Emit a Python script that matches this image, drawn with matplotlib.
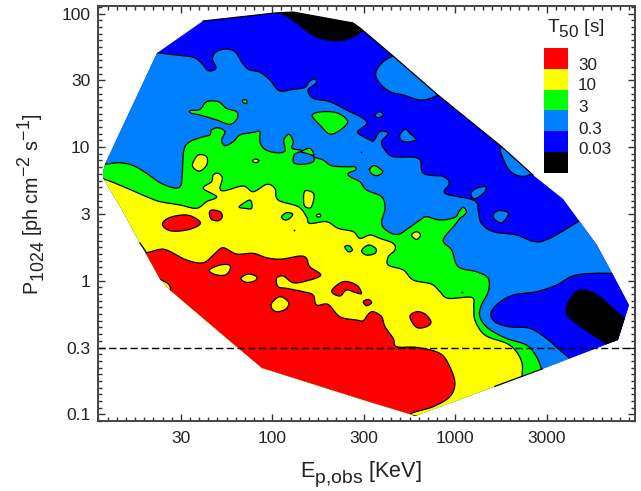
import numpy as np
import matplotlib
matplotlib.use("Agg")
import matplotlib.pyplot as plt
import matplotlib._mathtext as _mt
from matplotlib.patches import Polygon
from matplotlib.ticker import FixedLocator, FixedFormatter, NullFormatter

plt.rcParams['font.family'] = ['Liberation Sans', 'DejaVu Sans']
plt.rcParams['mathtext.fontset'] = 'custom'
plt.rcParams['mathtext.rm'] = 'Liberation Sans'
plt.rcParams['mathtext.default'] = 'regular'
_mt.SHRINK_FACTOR = 0.9
_mt.FontConstantsBase.sub1 = 0.5
_mt.FontConstantsBase.sub2 = 0.7
_mt.FontConstantsBase.sup1 = 0.8

# All outlines: (log10 Ep,obs [keV], log10 P1024)
RED, YEL, GRN, LBL, BLU, BLK = '#ff0000', '#ffff00', '#00ff00', '#0080ff', '#0000ff', '#000000'

hull = [(1.075,.769),(1.075,.814),(1.086,.873),(1.370,1.704),(1.621,1.944),(2.015,2.004),(2.113,2.011),(2.441,1.929),
        (2.479,1.892),(2.660,1.682),(2.905,1.390),(3.255,1.001),(3.425,.791),(3.589,.612),(3.774,.267),(3.862,.043),
        (3.949,-.182),(3.889,-.444),(3.829,-.474),(3.474,-.661),(3.370,-.713),(2.780,-1.013),(2.752,-.998),(2.534,-.908),
        (1.944,-.653),(1.807,-.496),(1.441,-.070),(1.386,.013),(1.277,.282),(1.179,.529)]

edge_top = [(1.621,1.944),(2.015,2.004),(2.113,2.011),(2.441,1.929),(2.479,1.892),(2.660,1.682),(2.905,1.390),(3.255,1.001),(3.425,.791)]
edge_bottom = [(3.216,-.791),(3.370,-.713),(3.474,-.661)]
edge_left = [(1.277,.282),(1.313,.210)]

lightblue_main = [(1.277,1.727),(1.368,1.707),(1.477,1.689),(1.568,1.672),(1.614,1.627),(1.650,1.572),(1.692,1.590),(1.674,1.657),
    (1.687,1.707),(1.741,1.734),(1.796,1.714),(1.832,1.639),(1.869,1.582),(1.932,1.560),(1.987,1.502),(2.038,1.422),(2.114,1.432),
    (2.178,1.447),(2.202,1.490),(2.233,1.510),(2.238,1.477),(2.196,1.427),(2.223,1.365),(2.314,1.340),(2.405,1.278),(2.496,1.215),
    (2.515,1.173),(2.478,1.133),(2.469,1.103),(2.534,1.053),(2.555,1.048),(2.588,1.115),(2.634,1.103),(2.597,1.041),(2.616,.978),
    (2.661,.928),(2.798,.916),(2.825,.804),(2.934,.779),(2.967,.729),(2.943,.654),(3.080,.612),(3.120,.579),(3.125,.529),(3.143,.429),
    (3.207,.367),(3.334,.342),(3.435,.292),(3.516,.317),(3.671,.442),(3.753,.517),(4.2,.5),(4.2,-1.3),(1.0,-1.3),(1.0,1.7)]
lightblue_top1 = [(2.661,1.682),(2.597,1.627),(2.565,1.552),(2.588,1.477),(2.643,1.415),(2.716,1.390),(2.816,1.352),(2.907,1.390),(3.025,1.477),(2.843,1.777)]
lightblue_top2 = [(3.253,1.011),(3.262,.911),(3.307,.811),(3.371,.781),(3.429,.811),(3.535,.903),(3.353,1.103)]
lightblue_isl = [
    [(2.561,1.240),(2.588,1.265),(2.606,1.240),(2.579,1.220)],
    [(2.697,1.090),(2.725,1.135),(2.752,1.103),(2.785,1.058),(2.752,1.041),(2.707,1.048)],
    [(3.085,.654),(3.116,.691),(3.162,.704),(3.162,.666),(3.107,.612)],
    [(3.207,.492),(3.234,.524),(3.280,.517),(3.289,.492),(3.253,.434),(3.216,.459)],
]
black_top = [(2.02,2.03),(2.08,1.98),(2.124,1.939),(2.178,1.881),(2.238,1.827),(2.329,1.796),(2.415,1.809),(2.495,1.871),(2.57,1.95),(2.3,2.15),(2.1,2.15)]
blue_br = [(3.862,.055),(3.753,.055),(3.644,.037),(3.553,-.032),(3.444,-.082),(3.316,-.107),(3.234,-.170),(3.194,-.245),(3.216,-.307),
           (3.289,-.344),(3.407,-.357),(3.498,-.432),(3.571,-.519),(3.626,-.581),(3.68,-.64),(4.05,-.47),(4.05,.055)]
black_br = [(3.607,-.207),(3.635,-.120),(3.680,-.070),(3.735,-.082),(3.789,-.120),(3.862,-.207),(3.930,-.282),(3.99,-.282),(3.99,-.52),(3.826,-.52),(3.826,-.474),
            (3.753,-.407),(3.662,-.319),(3.617,-.269)]

green_main = [(1.004,.878),(1.086,.873),(1.168,.883),(1.241,.861),(1.313,.804),(1.386,.734),(1.459,.696),(1.499,.709),(1.508,.804),(1.517,.978),
    (1.550,1.041),(1.623,1.078),(1.659,1.091),(1.668,1.128),(1.705,1.145),(1.741,1.115),(1.723,1.053),(1.741,1.011),(1.787,1.041),(1.823,1.091),
    (1.896,1.110),(1.932,1.115),(1.932,1.041),(1.960,.983),(2.023,.958),(2.069,.973),(2.063,1.053),(2.092,1.096),(2.114,1.041),(2.109,.991),
    (2.169,.973),(2.223,.928),(2.278,.903),(2.324,.861),(2.405,.853),(2.451,.853),(2.455,.829),(2.415,.804),(2.424,.779),(2.478,.741),
    (2.515,.679),(2.597,.629),(2.616,.542),(2.597,.429),(2.634,.367),(2.688,.347),(2.743,.392),(2.807,.454),(2.843,.479),(2.916,.454),
    (2.998,.474),(3.020,.517),(3.043,.549),(3.061,.517),(3.043,.484),(3.025,.467),(2.998,.417),(2.934,.304),(2.980,.230),(3.016,.105),
    (3.116,.067),(3.180,.018),(3.180,-.082),(3.143,-.182),(3.134,-.269),(3.180,-.357),(3.280,-.432),(3.389,-.482),(3.444,-.569),(3.471,-.661),
    (3.498,-.768),(3.4,-1.3),(1.0,-1.3)]
green_in_blue = [
    [(1.550,1.273),(1.605,1.283),(1.641,1.340),(1.705,1.340),(1.750,1.290),(1.805,1.265),(1.808,1.215),(1.768,1.170),(1.696,1.203),(1.605,1.240),(1.559,1.253)],
    [(1.838,1.352),(1.859,1.352),(1.859,1.327),(1.841,1.332)],
    [(2.218,1.240),(2.278,1.265),(2.360,1.253),(2.411,1.183),(2.324,1.096),(2.260,1.165)],
    [(2.534,.841),(2.561,.861),(2.603,.816),(2.570,.786),(2.537,.809)],
]
lightblue_in_green = [(2.114,.903),(2.123,.948),(2.169,.966),(2.223,.933),(2.223,.891),(2.169,.871),(2.123,.878)]
green_spot = [(2.160,.966),(2.205,.991),(2.227,.941),(2.187,.953)]
yellow_in_green = [
    [(1.565,.878),(1.596,.941),(1.641,.928),(1.641,.866),(1.605,.821),(1.572,.841)],
    [(1.892,.898),(1.909,.911),(1.927,.898),(1.909,.883)],
    [(2.178,.671),(2.227,.649),(2.214,.554),(2.187,.549),(2.172,.579)],
    [(2.242,.492),(2.260,.499),(2.263,.479),(2.245,.479)],
    [(2.761,.342),(2.788,.367),(2.810,.342),(2.788,.309)],
]
yellow_main = [(1.004,.761),(1.077,.761),(1.186,.704),(1.313,.629),(1.386,.592),(1.495,.567),(1.586,.542),(1.641,.592),(1.696,.629),(1.623,.691),
    (1.668,.741),(1.677,.791),(1.705,.804),(1.727,.766),(1.714,.691),(1.741,.674),(1.841,.709),(1.896,.666),(1.969,.721),(2.014,.691),(2.032,.604),
    (2.142,.554),(2.187,.479),(2.205,.429),(2.296,.442),(2.360,.392),(2.442,.367),(2.479,.317),(2.534,.342),(2.588,.317),(2.661,.279),(2.670,.230),
    (2.634,.180),(2.634,.117),(2.716,.080),(2.770,.005),(2.870,-.025),(2.916,-.082),(2.961,-.132),(3.089,-.125),(3.101,-.195),(3.107,-.294),
    (3.162,-.407),(3.280,-.469),(3.334,-.531),(3.365,-.619),(3.365,-.711),(3.365,-.818),(3.0,-1.3),(1.0,-1.3)]
green_in_yellow = [
    [(1.819,.554),(1.878,.604),(1.887,.542),(1.850,.542)],
    [(2.051,.479),(2.078,.509),(2.111,.499),(2.096,.467),(2.069,.454)],
    [(2.396,.254),(2.420,.262),(2.438,.230),(2.415,.217)],
    [(2.488,.225),(2.525,.267),(2.565,.242),(2.561,.205),(2.515,.192)],
]
red_main = [(1.241,.205),(1.313,.210),(1.386,.235),(1.432,.225),(1.532,.155),(1.623,.135),(1.687,.205),(1.732,.247),(1.805,.200),(1.896,.205),
    (1.969,.172),(2.051,.162),(2.151,.185),(2.187,.167),(2.205,.105),(2.265,.042),(2.187,-.002),(2.114,-.015),(2.060,.035),(2.023,.017),(2.032,-.045),
    (2.078,-.057),(2.169,-.082),(2.223,-.107),(2.242,-.182),(2.305,-.177),(2.369,-.269),(2.460,-.294),(2.497,-.299),(2.525,-.249),(2.552,-.232),
    (2.597,-.269),(2.616,-.344),(2.661,-.432),(2.679,-.494),(2.788,-.499),(2.916,-.544),(2.970,-.644),(2.998,-.768),(2.970,-.868),(2.879,-.943),
    (2.752,-.998),(2.716,-1.068),(1.0,-1.3),(1.0,.2)]
red_in_yellow = [
    [(2.752,-.269),(2.788,-.232),(2.834,-.249),(2.867,-.307),(2.843,-.344),(2.788,-.349)],
    [(2.497,-.157),(2.525,-.140),(2.543,-.165),(2.515,-.187)],
    [(2.324,-.077),(2.387,-.007),(2.460,-.032),(2.487,-.095),(2.451,-.087),(2.405,-.070),(2.369,-.115)],
    [(1.399,.424),(1.441,.474),(1.532,.492),(1.596,.454),(1.601,.417),(1.532,.379),(1.441,.374)],
    [(1.656,.504),(1.668,.529),(1.714,.517),(1.727,.479),(1.705,.449),(1.668,.459)],
]
yellow_in_red = [
    [(1.656,.080),(1.714,.117),(1.765,.117),(1.768,.080),(1.741,.042),(1.687,.047)],
    [(1.828,.017),(1.869,.050),(1.914,.030),(1.905,.000),(1.859,-.012)],
    [(1.996,-.170),(2.041,-.120),(2.087,-.157),(2.078,-.207),(2.032,-.232),(2.001,-.214)],
    [(1.386,.010),(1.432,-.025),(1.441,-.070),(1.395,-.082),(1.368,.018)],
]
specks = [(2.482,.966),(2.529,.833),(2.118,.379),(3.034,-.082)]

xtick_log = [1.5, 2, 2.5, 3, 3.5]
xtick_labels = ['30', '100', '300', '1000', '3000']
ytick_log = [-1, -.5, 0, .5, 1, 1.5, 2]
ytick_labels = ['0.1', '0.3', '1', '3', '10', '30', '100']
threshold_log = -0.5
legend_labels = ['30', '10', '3', '0.3', '0.03']
legend_colors = [RED, YEL, GRN, LBL, BLU, BLK]

W, H = 641, 491
fig = plt.figure(figsize=(W/100, H/100), dpi=100)
L, R, T, B = 98, 635, 5.5, 421
ax = fig.add_axes([L/W, 1-B/H, (R-L)/W, (B-T)/H])
ax.set_xscale('log'); ax.set_yscale('log')
ax.set_xlim(10**1.0475, 10**3.982)
ax.set_ylim(10**-1.050, 10**2.060)


def smooth(pts, n=8):
    p = np.array(pts, float)
    m = len(p)
    out = []
    t = np.linspace(0, 1, n, endpoint=False)[:, None]
    for i in range(m):
        a, b, c, d = p[i-1], p[i], p[(i+1) % m], p[(i+2) % m]
        out.append(.5*(2*b + (c-a)*t + (2*a-5*b+4*c-d)*t**2 + (3*b-a-3*c+d)*t**3))
    return 10**np.vstack(out)


clip = Polygon(10**np.array(hull), closed=True, transform=ax.transData, fc=BLU, ec='none', zorder=1)
ax.add_patch(clip)
z = [2]


def region(pts, color):
    z[0] += 1
    poly = Polygon(smooth(pts), closed=True, fc=color, ec='black', lw=0.9, zorder=z[0])
    ax.add_patch(poly)
    poly.set_clip_path(clip)


region(lightblue_main, LBL)
region(lightblue_top1, LBL)
region(lightblue_top2, LBL)
for s in lightblue_isl:
    region(s, LBL)
region(black_top, BLK)
region(blue_br, BLU)
region(black_br, BLK)
region(green_main, GRN)
for s in green_in_blue:
    region(s, GRN)
region(lightblue_in_green, LBL)
region(green_spot, GRN)
region(yellow_main, YEL)
for s in yellow_in_green:
    region(s, YEL)
for s in green_in_yellow:
    region(s, GRN)
region(red_main, RED)
for s in red_in_yellow:
    region(s, RED)
for s in yellow_in_red:
    region(s, YEL)

for e in (edge_top, edge_bottom, edge_left):
    a = 10**np.array(e)
    ax.plot(a[:, 0], a[:, 1], color='black', lw=0.9, zorder=50)
sp = 10**np.array(specks)
ax.plot(sp[:, 0], sp[:, 1], ls='none', marker='o', ms=1.3, color='black', mew=0, zorder=51)
ax.axhline(10**threshold_log, color='black', lw=1, dashes=(5.2, 2.5), zorder=60)

ax.xaxis.set_major_locator(FixedLocator(10**np.array(xtick_log)))
ax.xaxis.set_major_formatter(FixedFormatter(xtick_labels))
ax.yaxis.set_major_locator(FixedLocator(10**np.array(ytick_log)))
ax.yaxis.set_major_formatter(FixedFormatter(ytick_labels))
ax.xaxis.set_minor_locator(FixedLocator(10**np.arange(1.05, 4.0, .05)))
ax.yaxis.set_minor_locator(FixedLocator(10**np.arange(-1.05, 2.1, .05)))
ax.xaxis.set_minor_formatter(NullFormatter())
ax.yaxis.set_minor_formatter(NullFormatter())
ax.tick_params(which='major', direction='in', length=5, width=1, top=True, right=True,
               labelsize=12.6, labelcolor='#222222', color='#333333')
ax.tick_params(axis='x', which='major', pad=7)
ax.tick_params(axis='y', which='major', pad=5.5)
ax.tick_params(which='minor', direction='in', length=2.6, width=1, top=True, right=True, color='#333333')
for s in ax.spines.values():
    s.set_linewidth(1.4); s.set_color('#444444')
    s.set_zorder(100)

fig.text(361/W, 1-477/H, r'E$_{p{,}obs}$ [KeV]', ha='center', va='baseline', fontsize=15.5, color='#222222')
fig.text(39/W, 1-295/H, r'P$_{1024}$ [ph cm$^{-2}$ s$^{-1}$]', ha='left', va='baseline', rotation=90,
         rotation_mode='anchor', fontsize=14.2, color='#222222')

lax = fig.add_axes([544/W, 1-172.7/H, 24/W, 124.7/H])
lax.bar([0]*6, [1]*6, bottom=np.arange(6)[::-1], width=1, color=legend_colors, align='edge')
lax.set_xlim(0, 1); lax.set_ylim(0, 6); lax.axis('off')
for lab, py in zip(legend_labels, [65, 86, 108, 129, 150]):
    fig.text(578/W, 1-py/H, lab, ha='left', va='center', fontsize=12.3, color='#222222')
fig.text(547/W, 1-32.3/H, r'T$_{50}$ [s]', ha='left', va='baseline', fontsize=13.8, color='#222222')

fig.savefig('out.png', dpi=100)
